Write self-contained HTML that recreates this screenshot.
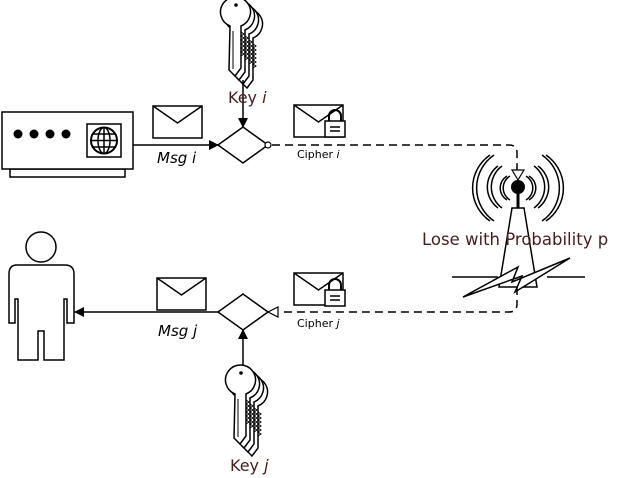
<!DOCTYPE html>
<html><head><meta charset="utf-8"><style>
html,body{margin:0;padding:0;background:#fff;}
svg{display:block;}
text{font-family:"DejaVu Sans","Liberation Sans",sans-serif;}
</style></head><body>
<svg width="617" height="478" viewBox="0 0 617 478" xmlns="http://www.w3.org/2000/svg">
<defs>
<marker id="ah" markerWidth="10" markerHeight="10" refX="9" refY="5" orient="auto" markerUnits="userSpaceOnUse">
<path d="M0,0 L10,5 L0,10 z" fill="#000"/>
</marker>
<g id="key">
<path d="M-5,10 A15,15 0 1 1 6,10 L6,52 L0,60 L-6,54 Z" fill="#fff" stroke="#000" stroke-width="1.5"/>
<path d="M6,16 l3,2 -3,2 3,2 -3,2 3,2 -3,2 3,2 -3,2 3,2 -3,2 3,2 -3,2" fill="none" stroke="#000" stroke-width="1"/>
<line x1="-2" y1="15" x2="-2" y2="53" stroke="#000" stroke-width="1"/>
</g>
<g id="env">
<rect x="0" y="0" width="49" height="32" fill="#fff" stroke="#000" stroke-width="1.5"/>
<path d="M0,0 L24.5,17 L49,0" fill="none" stroke="#000" stroke-width="1.5"/>
</g>
<g id="lock">
<path d="M4,0 v-5 a6,6 0 0 1 12,0 v5" fill="none" stroke="#000" stroke-width="2"/>
<rect x="0" y="0" width="20" height="16" fill="#fff" stroke="#000" stroke-width="1.5"/>
<line x1="5" y1="6" x2="15" y2="6" stroke="#000" stroke-width="1.5"/>
<line x1="5" y1="10" x2="15" y2="10" stroke="#000" stroke-width="1.5"/>
</g>
</defs>

<!-- device -->
<rect x="10" y="169" width="115" height="8" fill="#fff" stroke="#000" stroke-width="1.5"/>
<rect x="2" y="112" width="131" height="57" fill="#fff" stroke="#000" stroke-width="1.5"/>
<circle cx="18" cy="134" r="4.5"/><circle cx="34" cy="134" r="4.5"/><circle cx="50" cy="134" r="4.5"/><circle cx="66" cy="134" r="4.5"/>
<rect x="87" y="124" width="34" height="33" fill="#fff" stroke="#000" stroke-width="1.5"/>
<circle cx="104" cy="140.5" r="13" fill="#fff" stroke="#000" stroke-width="2"/>
<ellipse cx="104" cy="140.5" rx="6" ry="13" fill="none" stroke="#000" stroke-width="1.5"/>
<line x1="104" y1="127.5" x2="104" y2="153.5" stroke="#000" stroke-width="1.5"/>
<line x1="91" y1="140.5" x2="117" y2="140.5" stroke="#000" stroke-width="1.5"/>
<line x1="93" y1="134" x2="115" y2="134" stroke="#000" stroke-width="1.5"/>
<line x1="93" y1="147" x2="115" y2="147" stroke="#000" stroke-width="1.5"/>

<!-- top flow -->
<line x1="133" y1="145" x2="218" y2="145" stroke="#000" stroke-width="1.5" marker-end="url(#ah)"/>
<use href="#env" x="153" y="106"/>
<text x="157" y="163" font-size="15" font-style="italic">Msg i</text>
<!-- key i -->
<use href="#key" x="247" y="28"/>
<use href="#key" x="243" y="24"/>
<use href="#key" x="239" y="20"/>
<use href="#key" x="235" y="16"/>
<circle cx="236" cy="5" r="1.8"/>
<line x1="243" y1="80" x2="243" y2="127" stroke="#000" stroke-width="1.5" marker-end="url(#ah)"/>
<text x="228" y="103" font-size="16" fill="#4a1c1c">Key <tspan font-style="italic">i</tspan></text>
<path d="M218,145 L243,127 L268,145 L243,163 Z" fill="#fff" stroke="#000" stroke-width="1.5"/>
<circle cx="268" cy="145" r="3" fill="#fff" stroke="#000" stroke-width="1.2"/>
<path d="M272,145 H509 Q517,145 517,153 V178" fill="none" stroke="#000" stroke-width="1.5" stroke-dasharray="8,5"/>
<use href="#env" x="294" y="105"/>
<use href="#lock" x="325" y="121"/>
<text x="297" y="158" font-size="11">Cipher <tspan font-style="italic">i</tspan></text>

<!-- tower -->
<path d="M512,170 L524,170 L518,180 Z" fill="#fff" stroke="#000" stroke-width="1.2"/>
<circle cx="518" cy="187" r="7"/>
<line x1="518" y1="190" x2="518" y2="208" stroke="#000" stroke-width="3"/>
<g fill="none" stroke="#000" stroke-width="1.5">
<path d="M510,176 a14,14 0 0 0 0,24"/><path d="M507,176 a14,14 0 0 0 0,24"/>
<path d="M526,176 a14,14 0 0 1 0,24"/><path d="M529,176 a14,14 0 0 1 0,24"/>
<path d="M502,166 a26,26 0 0 0 0,42"/><path d="M498,166 a26,26 0 0 0 0,42"/>
<path d="M534,166 a26,26 0 0 1 0,42"/><path d="M538,166 a26,26 0 0 1 0,42"/>
<path d="M494,155 a40,40 0 0 0 0,66"/><path d="M490,155 a40,40 0 0 0 0,66"/>
<path d="M542,155 a40,40 0 0 1 0,66"/><path d="M546,155 a40,40 0 0 1 0,66"/>
</g>
<path d="M512,208 L524,208 L537,287 L499,287 Z" fill="#fff" stroke="#000" stroke-width="1.5"/>
<line x1="452" y1="277" x2="498" y2="277" stroke="#000" stroke-width="1.5"/>
<line x1="547" y1="277" x2="585" y2="277" stroke="#000" stroke-width="1.5"/>
<path d="M463,297 L518,267 L512,282 L570,258 L515,292 L522,276 Z" fill="#fff" stroke="#000" stroke-width="1.5"/>
<text x="422" y="245" font-size="16.5" fill="#4a1c1c">Lose with Probability p</text>

<!-- bottom flow -->
<path d="M517,287 V304 Q517,312 509,312 H279" fill="none" stroke="#000" stroke-width="1.5" stroke-dasharray="8,5"/>
<use href="#env" x="294" y="273"/>
<use href="#lock" x="325" y="290"/>
<text x="297" y="327" font-size="11">Cipher <tspan font-style="italic">j</tspan></text>
<path d="M218,312 L243,294 L268,312 L243,330 Z" fill="#fff" stroke="#000" stroke-width="1.5"/>
<path d="M268,312 L278,307 L278,317 Z" fill="#fff" stroke="#000" stroke-width="1.2"/>
<line x1="218" y1="312" x2="75" y2="312" stroke="#000" stroke-width="1.5" marker-end="url(#ah)"/>
<use href="#env" x="157" y="278"/>
<text x="158" y="336" font-size="15" font-style="italic">Msg j</text>
<line x1="243" y1="368" x2="243" y2="330" stroke="#000" stroke-width="1.5" marker-end="url(#ah)"/>
<use href="#key" x="252" y="396"/>
<use href="#key" x="248" y="392"/>
<use href="#key" x="244" y="388"/>
<use href="#key" x="240" y="384"/>
<circle cx="241" cy="373" r="1.8"/>
<text x="230" y="471" font-size="16" fill="#4a1c1c">Key <tspan font-style="italic">j</tspan></text>

<!-- person -->
<circle cx="41" cy="247" r="15" fill="#fff" stroke="#000" stroke-width="1.5"/>
<path d="M17,265 H65 Q74,265 74,274 V323 H67 V299 H64 V360 H44 V331 H38 V360 H18 V299 H15 V323 H9 V274 Q9,265 17,265 Z" fill="#fff" stroke="#000" stroke-width="1.5"/>
</svg>
</body></html>
